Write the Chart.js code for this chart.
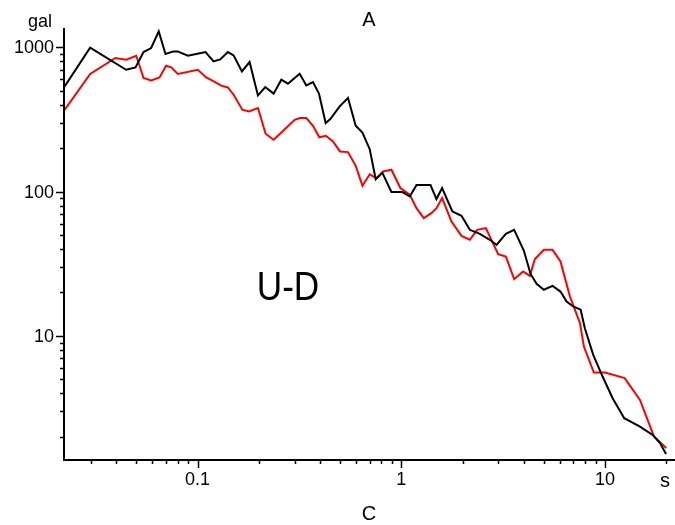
<!DOCTYPE html>
<html>
<head>
<meta charset="utf-8">
<script src="https://cdn.jsdelivr.net/npm/chart.js@4"></script>
<style>
  html, body { margin: 0; padding: 0; background: #fff; }
  canvas { display: block; }
</style>
</head>
<body>
<canvas id="c" width="675" height="525"></canvas>
<script>
// Response spectrum, vertical component (U-D): period [s] vs acceleration [gal]
const blackPeriods = [0.0221, 0.0297, 0.0446, 0.0496, 0.0543, 0.0592, 0.0645, 0.0696, 0.0762, 0.0800,
  0.0896, 0.0985, 0.1095, 0.1198, 0.1293, 0.1409, 0.1503, 0.1651, 0.1801, 0.1979,
  0.2151, 0.2363, 0.2578, 0.2778, 0.317, 0.3421, 0.3686, 0.3945, 0.4256, 0.4488,
  0.4986, 0.5478, 0.5976, 0.6448, 0.7003, 0.7494, 0.8083, 0.8949, 1.014, 1.101,
  1.188, 1.392, 1.489, 1.587, 1.783, 1.976, 2.171, 2.431, 2.722, 2.937,
  3.263, 3.584, 3.997, 4.315, 4.618, 5.013, 5.534, 6.05, 6.483, 6.987,
  7.60, 7.97, 8.76, 9.74, 10.91, 12.44, 14.86, 17.16, 18.64, 19.95];
const blackAccel = [528, 995, 700, 727, 929, 990, 1291, 900, 938, 938,
  876, 900, 929, 800, 826, 929, 880, 682, 792, 465,
  531, 478, 597, 560, 657, 545, 575, 478, 299, 319,
  390, 446, 286, 257, 197, 122, 135, 99.4, 99.4, 92.6,
  111, 111, 88.9, 106, 72.9, 68.1, 54.4, 51.0, 46.4, 42.8,
  51.0, 54.4, 39.1, 26.9, 23.0, 20.9, 22.2, 20.3, 17.3, 16.0,
  15.2, 11.3, 7.39, 5.23, 3.70, 2.69, 2.35, 2.06, 1.81, 1.52];

const redPeriods = [0.0221, 0.0297, 0.0395, 0.0446, 0.0500, 0.0543, 0.0592, 0.0650, 0.0701, 0.0743,
  0.0800, 0.1003, 0.1103, 0.1189, 0.1307, 0.1409, 0.1503, 0.1659, 0.1787, 0.1979,
  0.2158, 0.2363, 0.2578, 0.2997, 0.3178, 0.3421, 0.3686, 0.3961, 0.427, 0.4622,
  0.5004, 0.5478, 0.5976, 0.6448, 0.7003, 0.7553, 0.8139, 0.8949, 0.99, 1.101,
  1.188, 1.29, 1.405, 1.489, 1.587, 1.765, 1.976, 2.171, 2.358, 2.602,
  2.991, 3.263, 3.584, 3.968, 4.28, 4.529, 5.013, 5.534, 6.05, 6.73,
  7.536, 7.884, 8.82, 10.0, 12.5, 14.86, 17.4, 20.0];
const redAccel = [364, 654, 844, 822, 876, 613, 590, 619, 747, 727,
  654, 700, 619, 587, 543, 528, 470, 370, 360, 380,
  252, 229, 257, 315, 324, 324, 286, 238, 244, 223,
  190, 188, 151, 110, 132, 124, 138, 142, 106, 95.2,
  76.9, 65.6, 71.0, 76.9, 90.3, 62.1, 49.4, 46.4, 54.4, 55.9,
  36.9, 35.5, 24.8, 28.0, 26.1, 34.1, 39.5, 39.5, 32.8, 18.8,
  12.3, 8.44, 5.57, 5.57, 5.10, 3.60, 2.01, 1.67];

const xMajorTicks = [0.1, 1, 10];
const xTickLabels = ['0.1', '1', '10'];
const xMinorTicks = [0.03, 0.04, 0.05, 0.06, 0.07, 0.08, 0.09,
  0.2, 0.3, 0.4, 0.5, 0.6, 0.7, 0.8, 0.9,
  2, 3, 4, 5, 6, 7, 8, 9, 20];
const yMajorTicks = [10, 100, 1000];
const yTickLabels = ['10', '100', '1000'];
const yMinorTicks = [2, 3, 4, 5, 6, 7, 8, 9,
  20, 30, 40, 50, 60, 70, 80, 90,
  200, 300, 400, 500, 600, 700, 800, 900];

const FONT = '"Liberation Sans", Arial, sans-serif';

function pairs(xs, ys) {
  return xs.map((x, i) => ({ x: x, y: ys[i] }));
}

// Axes, tick marks and annotation text drawn against the chart's log scales
const frame = {
  id: 'frame',
  afterDatasetsDraw(chart) {
    const ctx = chart.ctx;
    const xs = chart.scales.x, ys = chart.scales.y;
    const a = chart.chartArea;
    ctx.save();
    ctx.strokeStyle = '#000';
    ctx.fillStyle = '#000';

    // axis lines
    ctx.lineWidth = 2;
    ctx.beginPath();
    ctx.moveTo(a.left, a.top);
    ctx.lineTo(a.left, a.bottom);
    ctx.lineTo(a.right, a.bottom);
    ctx.stroke();

    // tick marks
    ctx.lineWidth = 1.5;
    ctx.beginPath();
    yMinorTicks.forEach(v => {
      const py = Math.round(ys.getPixelForValue(v)) + 0.5;
      ctx.moveTo(a.left - 4, py); ctx.lineTo(a.left, py);
    });
    yMajorTicks.forEach(v => {
      const py = Math.round(ys.getPixelForValue(v)) + 0.5;
      ctx.moveTo(a.left - 8, py); ctx.lineTo(a.left, py);
    });
    xMinorTicks.forEach(v => {
      const px = Math.round(xs.getPixelForValue(v)) + 0.5;
      ctx.moveTo(px, a.bottom); ctx.lineTo(px, a.bottom + 4);
    });
    xMajorTicks.forEach(v => {
      const px = Math.round(xs.getPixelForValue(v)) + 0.5;
      ctx.moveTo(px, a.bottom); ctx.lineTo(px, a.bottom + 8);
    });
    ctx.stroke();

    // tick labels
    ctx.font = '18px ' + FONT;
    ctx.textBaseline = 'middle';
    ctx.textAlign = 'right';
    yMajorTicks.forEach((v, i) => {
      ctx.fillText(yTickLabels[i], a.left - 10, ys.getPixelForValue(v) + 1);
    });
    ctx.textAlign = 'center';
    xMajorTicks.forEach((v, i) => {
      ctx.fillText(xTickLabels[i], xs.getPixelForValue(v), a.bottom + 20);
    });

    // units and titles
    ctx.fillText('gal', 40, 22);
    ctx.font = '20px ' + FONT;
    ctx.fillText('s', 665, 481);
    ctx.fillText('A', 369, 20);
    ctx.fillText('C', 369, 514);

    // component label
    ctx.save();
    ctx.translate(288, 289);
    ctx.scale(0.88, 1);
    ctx.font = '40px ' + FONT;
    ctx.fillText('U-D', 0, 0);
    ctx.restore();

    ctx.restore();
  }
};

new Chart(document.getElementById('c'), {
  type: 'line',
  data: {
    datasets: [
      {
        label: 'black',
        data: pairs(blackPeriods, blackAccel),
        borderColor: '#000000',
        borderWidth: 2,
        pointRadius: 0,
        tension: 0,
        fill: false,
        order: 1
      },
      {
        label: 'red',
        data: pairs(redPeriods, redAccel),
        borderColor: '#ff0000',
        borderWidth: 2,
        pointRadius: 0,
        tension: 0,
        fill: false,
        order: 2
      }
    ]
  },
  options: {
    responsive: false,
    devicePixelRatio: 1,
    animation: false,
    layout: { padding: { left: 64, right: 0, top: 28, bottom: 65 } },
    plugins: { legend: { display: false }, tooltip: { enabled: false } },
    scales: {
      x: { type: 'logarithmic', min: 0.0221, max: 22.08, display: false },
      y: { type: 'logarithmic', min: 1.38, max: 1363, display: false }
    }
  },
  plugins: [frame]
});
</script>
</body>
</html>
